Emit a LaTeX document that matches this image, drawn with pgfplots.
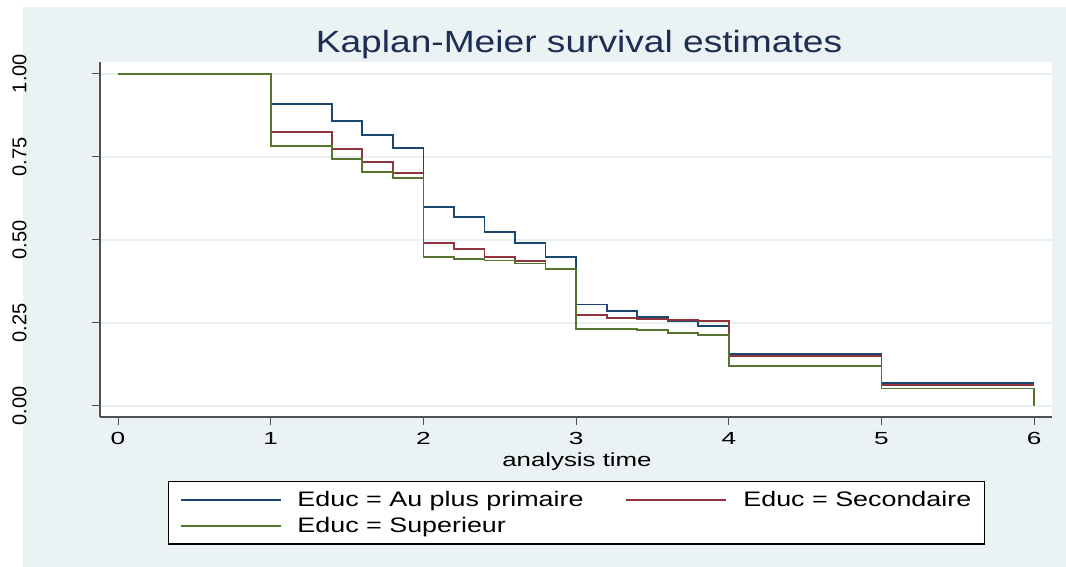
\documentclass[border=0pt]{standalone}
\usepackage{fontspec}
\setmainfont{Liberation Sans}
\newfontfamily\titlefont[FakeStretch=1.21]{Liberation Sans}
\newfontfamily\labelfont[FakeStretch=1.36]{Liberation Sans}
\newfontfamily\legfont[FakeStretch=1.28]{Liberation Sans}
\newfontfamily\xtickfont[FakeStretch=1.5]{Liberation Sans}
\usepackage{pgfplots}
\pgfplotsset{compat=1.18}
\definecolor{bg}{RGB}{234,242,243}
\definecolor{gridc}{RGB}{232,240,242}
\definecolor{snavy}{RGB}{26,71,111}
\definecolor{smaroon}{RGB}{144,53,59}
\definecolor{sgreen}{RGB}{85,117,47}
\definecolor{titlec}{RGB}{30,45,83}
\definecolor{axc}{RGB}{80,80,80}

\begin{document}
\begin{tikzpicture}[x=1pt,y=1pt]
\fill[white] (0,0) rectangle (1066,567);
\fill[bg] (23,0) rectangle (1066,560);
\useasboundingbox (0,0) rectangle (1066,567);
\node[font=\titlefont\fontsize{30.7}{32}\selectfont, text=titlec, anchor=base, inner sep=0pt] at (579,514) {Kaplan-Meier survival estimates};
\begin{axis}[
  at={(100pt,150pt)}, anchor=south west,
  width=952pt, height=355.3pt, scale only axis,
  xmin=-0.1179, xmax=6.1166, ymin=-0.034, ymax=1.036,
  axis background/.style={fill=white},
  axis x line*=bottom, axis y line*=left,
  axis line style={draw=axc, line width=1.2pt, -},
  xtick={0,1,2,3,4,5,6}, xticklabels={0,1,2,3,4,5,6},
  ytick={0,0.25,0.5,0.75,1}, yticklabels={0.00,0.25,0.50,0.75,1.00},
  tick align=outside,
  major tick length=8pt,
  tick style={draw=axc, line width=1pt},
  minor tick num=0,
  ymajorgrids,
  major grid style={draw=gridc, line width=1.8pt},
  xticklabel style={font=\xtickfont\fontsize{17.5}{18}\selectfont, anchor=base, yshift=-20pt},
  yticklabel style={font=\fontsize{20}{20}\selectfont, rotate=90, anchor=south},
  yticklabel shift=62pt,
  xlabel={analysis time},
  xlabel style={font=\labelfont\fontsize{19}{20}\selectfont, at={(axis description cs:0.501,-0.138)}, anchor=base, inner sep=0pt},
  legend columns=2,
  legend cell align=left,
  legend style={at={(0.5005,-0.18)}, anchor=north, draw=black, line width=1.2pt, fill=white,
    font=\legfont\fontsize{21}{24}\selectfont, inner xsep=11pt, inner ysep=8pt,
    /tikz/every odd column/.append style={column sep=14pt},
    /tikz/every even column/.append style={column sep=40pt},
    row sep=5pt},
  legend image code/.code={\draw[#1] (0pt,0pt) -- (100pt,0pt);},
]
\addplot[const plot, snavy, line width=1.8pt] coordinates {
(0,1) (1,0.909) (1.4,0.858) (1.6,0.816) (1.8,0.775) (2,0.598) (2.2,0.569) (2.4,0.522) (2.6,0.490) (2.8,0.448) (3,0.305) (3.2,0.286) (3.4,0.268) (3.6,0.256) (3.8,0.240) (4,0.156) (5,0.069) (6,0.069)
};
\addlegendentry{Educ = Au plus primaire}
\addplot[const plot, smaroon, line width=1.8pt] coordinates {
(0,1) (1,0.825) (1.4,0.772) (1.6,0.735) (1.8,0.700) (2,0.491) (2.2,0.472) (2.4,0.449) (2.6,0.436) (2.8,0.413) (3,0.273) (3.2,0.263) (3.4,0.261) (3.6,0.258) (3.8,0.256) (4,0.150) (5,0.062) (6,0.062)
};
\addlegendentry{Educ = Secondaire}
\addplot[const plot, sgreen, line width=1.8pt] coordinates {
(0,1) (1,0.782) (1.4,0.742) (1.6,0.704) (1.8,0.685) (2,0.449) (2.2,0.443) (2.4,0.437) (2.6,0.428) (2.8,0.412) (3,0.231) (3.4,0.228) (3.6,0.220) (3.8,0.214) (4,0.120) (5,0.052) (6,0)
};
\addlegendentry{Educ = Superieur}
\end{axis}
\end{tikzpicture}
\end{document}
